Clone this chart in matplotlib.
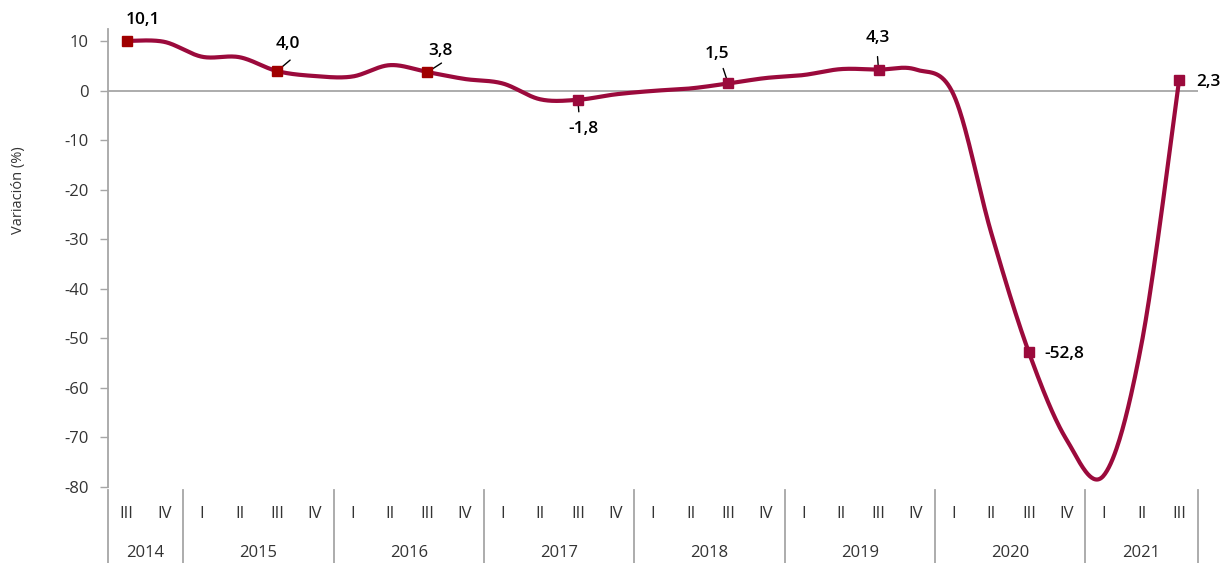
import numpy as np
import matplotlib
matplotlib.use("Agg")
import matplotlib.pyplot as plt
import matplotlib.transforms as mtransforms
from matplotlib.lines import Line2D

plt.rcParams['font.family'] = ['Open Sans', 'DejaVu Sans']

# ---------------- data ----------------
years = ["2014", "2015", "2016", "2017", "2018", "2019", "2020", "2021"]
quarters = ["III", "IV",
            "I", "II", "III", "IV",
            "I", "II", "III", "IV",
            "I", "II", "III", "IV",
            "I", "II", "III", "IV",
            "I", "II", "III", "IV",
            "I", "II", "III", "IV",
            "I", "II", "III"]
quarters_per_year = [2, 4, 4, 4, 4, 4, 4, 3]
values = [10.1, 9.9,
          6.9, 6.8, 4.0, 3.0,
          2.9, 5.2, 3.8, 2.4,
          1.5, -1.7, -1.8, -0.7,
          0.0, 0.5, 1.5, 2.6,
          3.2, 4.4, 4.3, 4.3,
          -0.8, -28.7, -52.8, -70.4,
          -77.6, -51.0, 2.3]
labeled_idx = [0, 4, 8, 12, 16, 20, 24, 28]
label_texts = ["10,1", "4,0", "3,8", "-1,8", "1,5", "4,3", "-52,8", "2,3"]
y_ticks = [-80, -70, -60, -50, -40, -30, -20, -10, 0, 10]

# ---------------- style ----------------
LINE_C = "#9b0a3c"
MARK_C_EARLY = "#a00000"
GRAY = "#a6a6a6"
TXT = "#333333"
PX = 0.72  # points per pixel at dpi 100

# label offsets in pixels (text center relative to marker) and leader ends
label_offsets = [(16, 21), (11, 27), (13, 21), (6, -29), (-11, 29), (-1, 32), (16, -2), (17, -2)]
label_ha = ["center", "center", "center", "center", "center", "center", "left", "left"]
leaders = [None, (13, 11), (14, 9), (1, -12), (-5, 15), (-1, 13), None, None]

fig = plt.figure(figsize=(12.27, 5.63), dpi=100)
W, H = 1227, 563
AX_L, AX_R, AX_T, AX_B = 108, 1198, 29, 487
ax = fig.add_axes([AX_L / W, 1 - AX_B / H, (AX_R - AX_L) / W, (AX_B - AX_T) / H])
AH = AX_B - AX_T

x = np.arange(len(values))
y = np.array(values, dtype=float)

# Catmull-Rom (Excel-like) smoothing via cubic Bezier segments
P = np.column_stack([x, y]).astype(float)
Pp = np.vstack([P[0], P, P[-1]])
xs, ys = [], []
t = np.linspace(0, 1, 40)
for k in range(len(P) - 1):
    p0, p1, p2, p3 = Pp[k], Pp[k + 1], Pp[k + 2], Pp[k + 3]
    c1 = p1 + (p2 - p0) / 6.0
    c2 = p2 - (p3 - p1) / 6.0
    b = ((1 - t) ** 3)[:, None] * p1 + (3 * (1 - t) ** 2 * t)[:, None] * c1 \
        + (3 * (1 - t) * t ** 2)[:, None] * c2 + (t ** 3)[:, None] * p2
    xs.append(b[:, 0])
    ys.append(b[:, 1])
xs = np.concatenate(xs)
ys = np.concatenate(ys)

ax.axhline(0, color=GRAY, lw=1.3, zorder=1)
ax.plot(xs, ys, color=LINE_C, lw=3.0, solid_capstyle='round', zorder=3)

for j, i in enumerate(labeled_idx):
    mc = MARK_C_EARLY if i < 12 else LINE_C
    ax.plot([x[i]], [y[i]], marker='s', ms=7.5, color=mc, mec=mc, zorder=5, clip_on=False)
    dx, dy = label_offsets[j]
    ax.annotate(label_texts[j], xy=(x[i], y[i]), xytext=(dx * PX, dy * PX),
                textcoords='offset points', ha=label_ha[j], va='center',
                fontsize=12.5, fontweight='semibold', color='black', zorder=6,
                annotation_clip=False)
    if leaders[j] is not None:
        lx, ly = leaders[j]
        ax.annotate('', xy=(x[i], y[i]), xytext=(lx * PX, ly * PX),
                    textcoords='offset points',
                    arrowprops=dict(arrowstyle='-', color='black', lw=1.0,
                                    shrinkA=0, shrinkB=0), zorder=4)

ax.set_xlim(-0.5, len(values) - 0.5)
ax.set_ylim(-80, 12.5)
ax.set_yticks(y_ticks)
ax.set_yticklabels([str(v) for v in y_ticks], fontsize=12, color=TXT)
ax.tick_params(axis='y', direction='out', length=6, color=GRAY, width=1, pad=8)

for s in ['top', 'right', 'bottom']:
    ax.spines[s].set_visible(False)
ax.spines['left'].set_color(GRAY)
ax.spines['left'].set_linewidth(1.3)

ax.set_xticks(x)
ax.set_xticklabels(quarters, fontsize=12, color=TXT)
ax.tick_params(axis='x', length=0, pad=14)

ax.set_ylabel("Variación (%)", fontsize=10.5, color=TXT)
ax.yaxis.set_label_coords((26 - AX_L) / (AX_R - AX_L), (AX_B - 190) / AH)

# year labels and separators
trans = mtransforms.blended_transform_factory(ax.transData, ax.transAxes)
bottom_ax = -(H - AX_B) / AH
bounds = [-0.5]
for nq in quarters_per_year:
    bounds.append(bounds[-1] + nq)
for k, yr in enumerate(years):
    cx = (bounds[k] + bounds[k + 1]) / 2
    ax.text(cx, -(553 - AX_B) / AH, yr, transform=trans, ha='center', va='center',
            fontsize=12, color=TXT, clip_on=False)
for bpos in bounds:
    ax.add_line(Line2D([bpos, bpos], [-(490 - AX_B) / AH, bottom_ax], transform=trans,
                       color=GRAY, lw=1.3, clip_on=False))

fig.savefig("out.png", dpi=100)
